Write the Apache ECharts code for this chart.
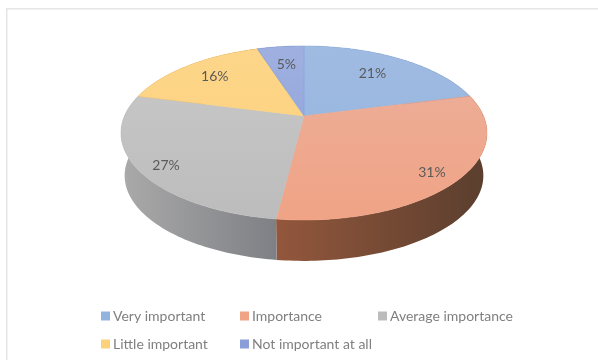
<!DOCTYPE html>
<html><head><meta charset="utf-8">
<style>html,body{margin:0;padding:0;background:#fff}#c{width:598px;height:360px}</style>
<script src="https://cdn.jsdelivr.net/npm/echarts@6/dist/echarts.min.js"></script>
</head><body><div id="c"></div>
<script>
const categories = ['Very important','Importance','Average importance','Little important','Not important at all'];
const shares = [21,31,27,16,5];

const topColors = [['#a0bbe2','#92b3de'],['#ecb09c','#f0a385'],['#c9c9c9','#bcbcbc'],['#fdd68a','#fdd07a'],['#9fb0e0','#8a9fd8']];
const wallColors = [['#5f7aa0','#4f6a90'],['#93573c','#5a3e2e'],['#aaaaaa','#7f8085'],['#a08040','#806030'],['#5f6f9f','#4f5f8f']];
const labelRadius = [.71,.87,.87,.75,.715];
const labelTurn = [-.02,.04,-.06,0,0];
const FRONT=.195, APEX_X=304, APEX_Y=116, RX=179.5, RY=83.7, DEPTH=43, BOTTOM_SCALE=.98;

const total = shares.reduce((a,b)=>a+b,0);
function project(theta,r,drop,scale){
  const u=Math.sin(theta)*r, v=-Math.cos(theta)*r, w=1-FRONT*v;
  return [APEX_X+RX*scale*u/w, APEX_Y+drop+RY*scale*v/w];
}
function arc(a,b,drop,scale){
  const pts=[], n=Math.max(4,Math.ceil((b-a)/0.02));
  for(let i=0;i<=n;i++) pts.push(project(a+(b-a)*i/n,1,drop,scale));
  return pts;
}
function sliceSeries(idx){
  const before=shares.slice(0,idx).reduce((a,b)=>a+b,0);
  return {
    type:'custom', name:categories[idx], coordinateSystem:'none', silent:true,
    itemStyle:{color:topColors[idx][1]},
    data:[[shares[idx]]],
    renderItem(params,api){
      const val=api.value(0);
      const a=before/total*Math.PI*2, b=(before+val)/total*Math.PI*2, mid=(a+b)/2;
      const top=arc(a,b,0,1), low=arc(a,b,DEPTH,BOTTOM_SCALE).reverse();
      const xs=top.map(p=>p[0]), x0=Math.min(...xs), x1=Math.max(...xs);
      const lp=project(mid+labelTurn[idx],labelRadius[idx],0,1);
      return {type:'group',children:[
        {type:'polygon',z2:1,shape:{points:top.concat(low)},
         style:{fill:new echarts.graphic.LinearGradient(x0,0,x1,0,[
           {offset:0,color:wallColors[idx][0]},{offset:1,color:wallColors[idx][1]}],true)}},
        {type:'polygon',z2:2,shape:{points:[[APEX_X,APEX_Y]].concat(top)},
         style:{fill:new echarts.graphic.LinearGradient(0,46,0,220,[
           {offset:0,color:topColors[idx][0]},{offset:1,color:topColors[idx][1]}],true),
           stroke:topColors[idx][1],lineWidth:.5}},
        {type:'text',z2:3,x:lp[0],y:lp[1],style:{text:Math.round(val/total*100)+'%',
          fill:'#5a5a5a',font:'14px Lato',align:'center',verticalAlign:'middle'}}
      ]};
    }
  };
}
function legend(names,left){
  return {data:names,orient:'vertical',left,top:304,itemWidth:9,itemHeight:9,itemGap:14,
    selectedMode:false,icon:'rect',textStyle:{color:'#7f7f7f',fontSize:14,fontFamily:'Lato',padding:[0,0,0,-2]}};
}
const chart=echarts.init(document.getElementById('c'),null,{renderer:'canvas'});
chart.setOption({
  animation:false,backgroundColor:'#fff',
  graphic:[
    {type:'rect',z:-1,shape:{x:6,y:8,width:592,height:1.5},style:{fill:'#e6e6e6'}},
    {type:'rect',z:-1,shape:{x:6,y:8,width:1.5,height:352},style:{fill:'#e6e6e6'}}
  ],
  legend:[legend([categories[0],categories[3]],96),legend([categories[1],categories[4]],235),legend([categories[2]],373)],
  series:categories.map((c,i)=>sliceSeries(i))
});
</script></body></html>
